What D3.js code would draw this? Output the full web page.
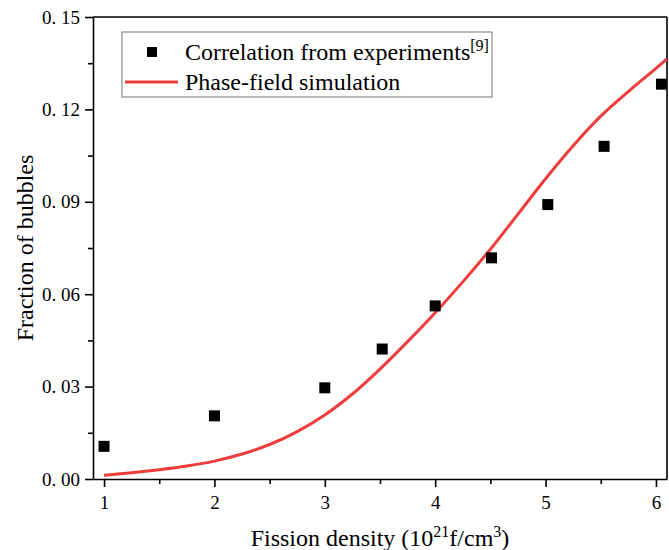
<!DOCTYPE html>
<html lang="en">
<head>
    <meta charset="UTF-8">
    <title>Fraction of bubbles vs fission density</title>
    <style>
        body { margin: 0; background: #fff; }
        .axis text {
            font-family: "Times New Roman", "Liberation Serif", serif;
            font-size: 19px;
            fill: #000;
        }
        .axis path, .axis line {
            stroke: #000;
            stroke-width: 1.6;
        }
        .title {
            font-family: "Times New Roman", "Liberation Serif", serif;
            font-size: 24px;
            fill: #000;
        }
    </style>
</head>
<body>
<script src="https://cdn.jsdelivr.net/npm/d3@7"></script>
<script>
    // experiment points
    const exp_x = [1, 2, 3, 3.52, 4, 4.51, 5.02, 5.53, 6.05];
    const exp_y = [0.0106, 0.0205, 0.0296, 0.0422, 0.0562, 0.0718, 0.0891, 0.1080, 0.1282];

    // phase-field curve
    const sim_x = [1.0, 1.25, 1.5, 1.75, 2.0, 2.25, 2.5, 2.75, 3.0, 3.25, 3.5, 3.75,
                   4.0, 4.25, 4.5, 4.75, 5.0, 5.25, 5.5, 5.75, 6.0, 6.1];
    const sim_y = [0.0012, 0.0020, 0.0030, 0.0042, 0.0058, 0.0081, 0.0112, 0.0154,
                   0.0208, 0.0276, 0.0357, 0.0446, 0.0540, 0.0640, 0.0746, 0.0860,
                   0.0975, 0.1082, 0.1178, 0.1258, 0.1333, 0.1364];

    const x_ticks = [1, 2, 3, 4, 5, 6];
    const x_minor = [1.5, 2.5, 3.5, 4.5, 5.5];
    const y_ticks = [0, 0.03, 0.06, 0.09, 0.12, 0.15];
    const y_minor = [0.015, 0.045, 0.075, 0.105, 0.135];

    const legend_labels = ['Correlation from experiments', 'Phase-field simulation'];

    const svg_w = 669, svg_h = 550;
    const pad_l = 93, pad_r = 667, pad_t = 17, pad_b = 479;
    const red = '#ef3c3c';

    const svg = d3.select('body').append('svg')
        .attr('width', svg_w)
        .attr('height', svg_h);

    const x_scale = d3.scaleLinear([0.9, 6.1], [pad_l, pad_r]);
    const y_scale = d3.scaleLinear([0, 0.15], [pad_b, pad_t]);

    const fmt = d => d3.format('.2f')(d).replace('.', '.\u00a0');

    // minor ticks first so the major axis draws over them
    svg.append('g').attr('class', 'axis')
        .attr('transform', `translate(0, ${pad_b})`)
        .call(d3.axisBottom(x_scale).tickValues(x_minor).tickSize(5).tickFormat(''))
        .select('.domain').remove();
    svg.append('g').attr('class', 'axis')
        .attr('transform', `translate(${pad_l}, 0)`)
        .call(d3.axisLeft(y_scale).tickValues(y_minor).tickSize(5).tickFormat(''))
        .select('.domain').remove();

    svg.append('g').attr('class', 'axis')
        .attr('transform', `translate(0, ${pad_b})`)
        .call(d3.axisBottom(x_scale).tickValues(x_ticks).tickFormat(d3.format('d'))
            .tickSize(8).tickSizeOuter(0).tickPadding(9));
    svg.append('g').attr('class', 'axis')
        .attr('transform', `translate(${pad_l}, 0)`)
        .call(d3.axisLeft(y_scale).tickValues(y_ticks).tickFormat(fmt)
            .tickSize(8).tickSizeOuter(0).tickPadding(5));

    // top and right frame
    svg.append('line')
        .attr('x1', pad_l).attr('x2', pad_r).attr('y1', pad_t).attr('y2', pad_t)
        .attr('stroke', '#000').attr('stroke-width', 1.6);
    svg.append('line')
        .attr('x1', pad_r).attr('x2', pad_r).attr('y1', pad_t).attr('y2', pad_b)
        .attr('stroke', '#000').attr('stroke-width', 1.6);

    // simulation line
    const line = d3.line()
        .x((d, i) => x_scale(sim_x[i]))
        .y(d => y_scale(d))
        .curve(d3.curveCatmullRom);

    svg.append('path')
        .attr('d', line(sim_y))
        .attr('fill', 'none')
        .attr('stroke', red)
        .attr('stroke-width', 3);

    // experiment squares
    const sq = 11;
    svg.selectAll('rect.pt')
        .data(exp_y)
        .enter()
        .append('rect')
        .attr('class', 'pt')
        .attr('x', (d, i) => x_scale(exp_x[i]) - sq / 2)
        .attr('y', d => y_scale(d) - sq / 2)
        .attr('width', sq)
        .attr('height', sq)
        .attr('fill', '#000');

    // legend
    const lg = svg.append('g');
    lg.append('rect')
        .attr('x', 122).attr('y', 32)
        .attr('width', 370).attr('height', 65)
        .attr('fill', '#fff')
        .attr('stroke', '#777')
        .attr('stroke-width', 1);
    lg.append('rect')
        .attr('x', 147).attr('y', 47)
        .attr('width', 10).attr('height', 10)
        .attr('fill', '#000');
    lg.append('line')
        .attr('x1', 125).attr('x2', 178).attr('y1', 82).attr('y2', 82)
        .attr('stroke', red).attr('stroke-width', 3);

    const t1 = lg.append('text').attr('class', 'title')
        .attr('x', 185).attr('y', 60)
        .text(legend_labels[0]);
    t1.append('tspan')
        .attr('dy', -9)
        .style('font-size', '16px')
        .text('[9]');
    lg.append('text').attr('class', 'title')
        .attr('x', 185).attr('y', 90)
        .text(legend_labels[1]);

    // axis titles
    svg.append('text').attr('class', 'title')
        .attr('transform', `translate(33, ${(pad_t + pad_b) / 2}) rotate(-90)`)
        .attr('text-anchor', 'middle')
        .text('Fraction of bubbles');

    const xt = svg.append('text').attr('class', 'title')
        .attr('x', 380).attr('y', 546)
        .attr('text-anchor', 'middle');
    xt.append('tspan').text('Fission density (10');
    xt.append('tspan').attr('dy', -9).style('font-size', '16px').text('21');
    xt.append('tspan').attr('dy', 9).text('f/cm');
    xt.append('tspan').attr('dy', -9).style('font-size', '16px').text('3');
    xt.append('tspan').attr('dy', 9).text(')');
</script>
</body>
</html>
